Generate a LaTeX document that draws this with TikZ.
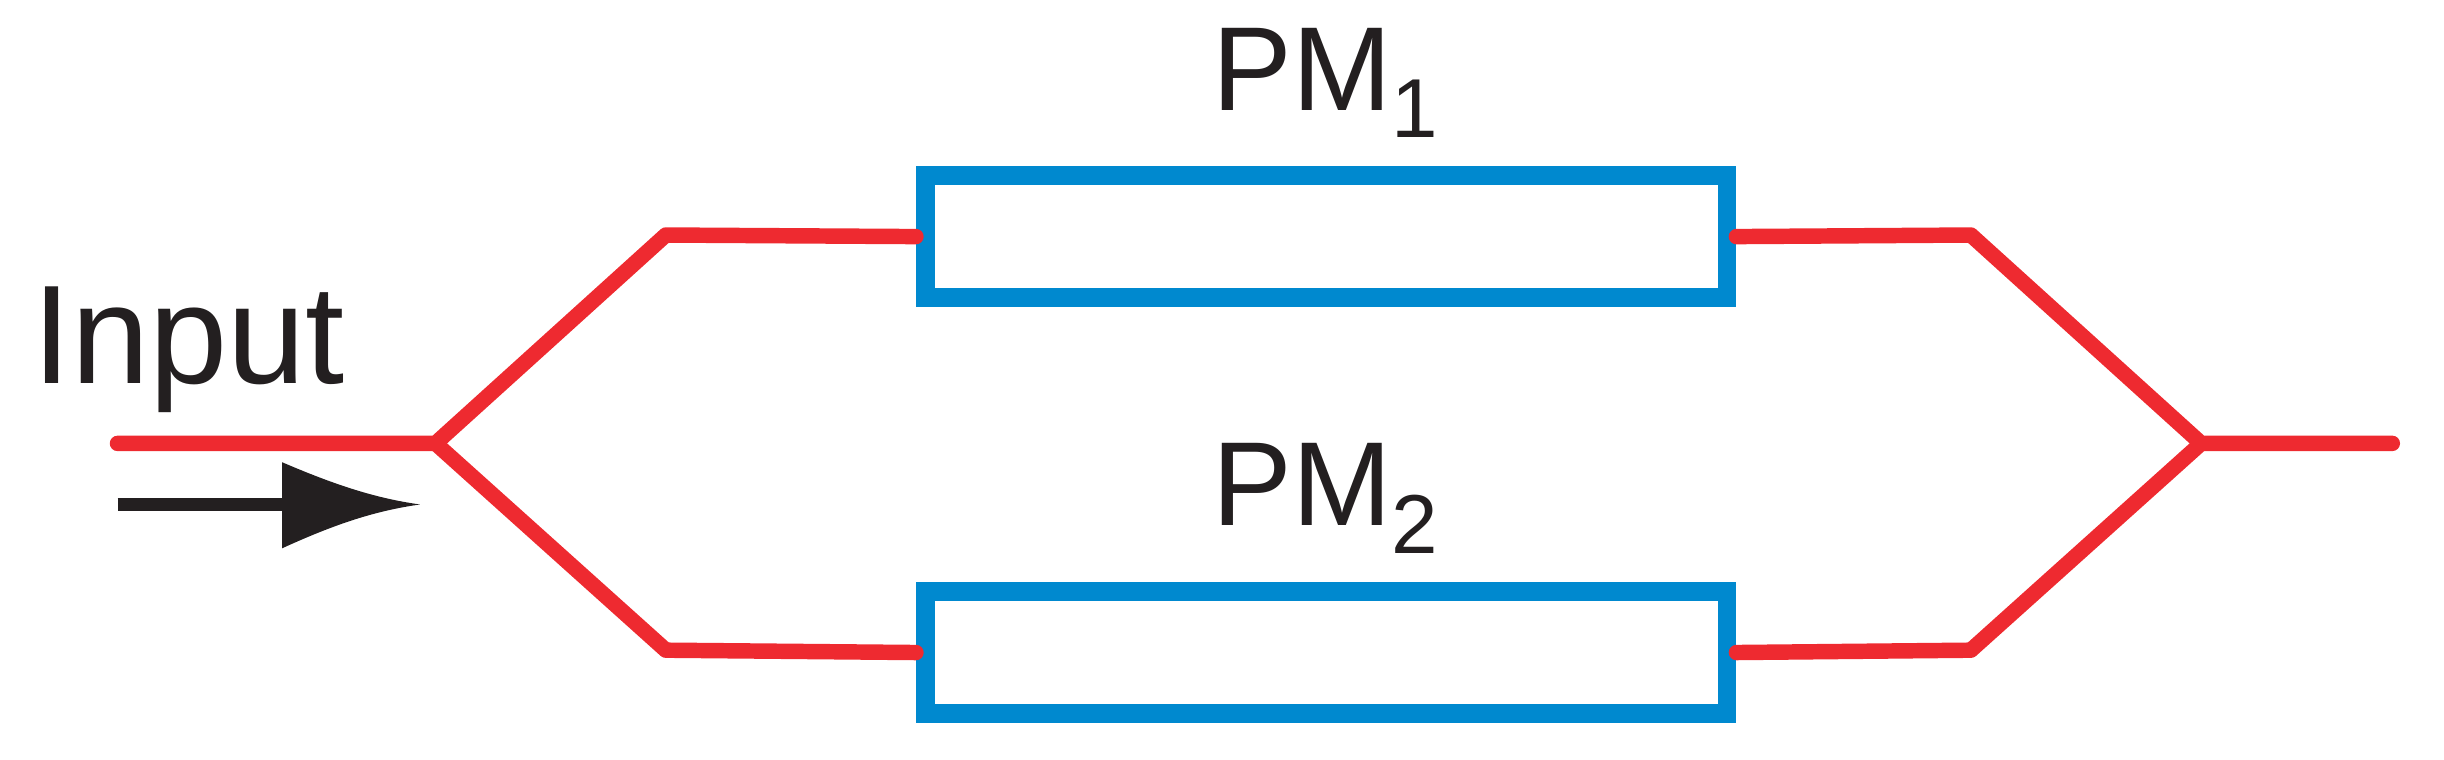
\documentclass[tikz,border=0pt]{standalone}
\usepackage{fontspec}
\setmainfont{Liberation Sans}
\usetikzlibrary{positioning}
\definecolor{fibre}{HTML}{EE2A30}
\definecolor{modul}{HTML}{0089CF}
\definecolor{ink}{HTML}{231F20}
\tikzstyle{guide}	=[draw=fibre, line width=4.4pt, line cap=round, line join=round]
\tikzstyle{pm}		=[rectangle, draw=modul, line width=5.3pt, minimum width=8.02cm, minimum height=1.22cm, inner sep=0pt]
\tikzstyle{lbl}		=[text=ink, font=\fontsize{34}{36}\selectfont, inner sep=0pt]
\begin{document}
\begin{tikzpicture}[x=0.015667cm, y=-0.015667cm]
	\useasboundingbox (0,0) rectangle (1560,485);

	% phase modulators
	\node (PMa)	[pm]	at (846.5,151)	{};
	\node (PMb)	[pm]	at (846.5,416.5)	{};
	\node (La)	[lbl, above=0.28cm of PMa]	{PM\textsubscript{1}};
	\node (Lb)	[lbl, above=0.28cm of PMb]	{PM\textsubscript{2}};

	% splitter and combiner points
	\coordinate (In)	at (75,283);
	\coordinate (Split)	at (278,283);
	\coordinate (UpL)	at (425,150);
	\coordinate (DnL)	at (425,415);
	\coordinate (UpR)	at (1258,150);
	\coordinate (DnR)	at (1258,415);
	\coordinate (Join)	at (1405,283);
	\coordinate (Out)	at (1527,283);

	\draw[guide] (In) -- (Split) -- (UpL) -- (PMa.west);
	\draw[guide] (Split) -- (DnL) -- (PMb.west);
	\draw[guide] (PMa.east) -- (UpR) -- (Join) -- (Out);
	\draw[guide] (PMb.east) -- (DnR) -- (Join);

	% input label and arrow
	\node (Input)	[lbl, font=\fontsize{40}{42}\selectfont, anchor=base west]	at (20,245)	{Input};
	\coordinate (ArrS)	at (75,322);
	\coordinate (ArrT)	at (268,322);
	\draw[ink, line width=3.6pt] (ArrS) -- (185,322);
	\fill[ink] (180,295) .. controls (215,310) and (240,318) .. (ArrT)
		.. controls (240,326) and (215,334) .. (180,350) -- cycle;
\end{tikzpicture}
\end{document}
